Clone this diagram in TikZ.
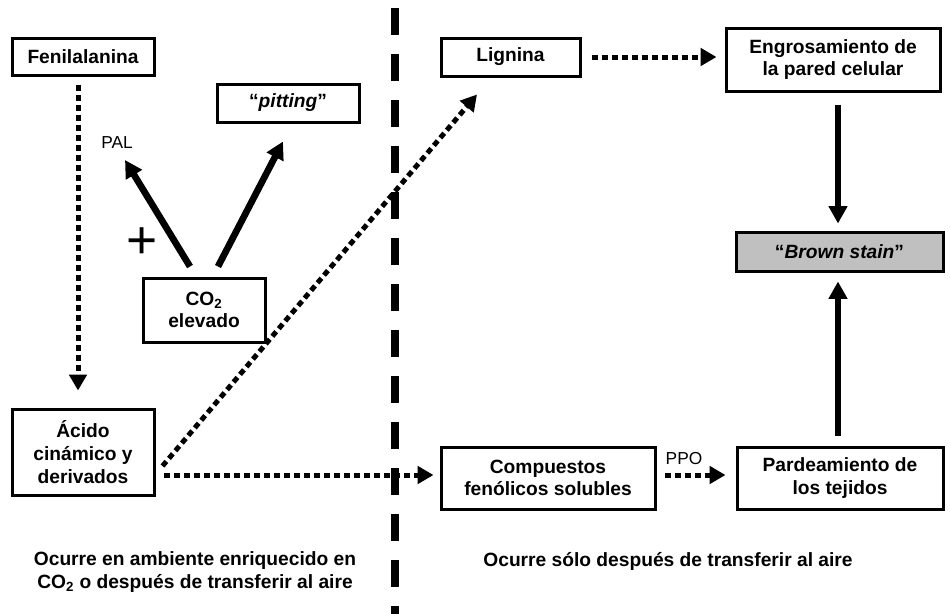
\documentclass[tikz,border=0pt]{standalone}
\usepackage{fontspec}
\setmainfont{Liberation Sans}
\usetikzlibrary{arrows.meta,calc}
\definecolor{staingray}{RGB}{192,192,192}
\tikzset{
  stepbox/.style={draw, line width=2.25pt, inner sep=0pt, align=center, font=\bfseries\fontsize{14.4}{17}\selectfont},
  notetext/.style={inner sep=0.75pt, align=center, font=\bfseries\fontsize{14.4}{17}\selectfont},
  enztext/.style={inner sep=0.75pt, font=\fontsize{13}{15}\selectfont},
  dotarrow/.style={line width=3.75pt, dash pattern=on 4.5pt off 3pt, -{Triangle[length=12pt,width=13pt]}},
  solidarrow/.style={line width=5pt, -{Triangle[length=13pt,width=13.5pt]}},
}
\begin{document}
\begin{tikzpicture}[x=0.75pt,y=0.75pt,yscale=-1,xscale=1]
	\useasboundingbox (0,0) rectangle (950,614);
	
	%Dashed divider
	\draw [line width=6pt, dash pattern=on 20.25pt off 14.25pt] (395,8) -- (395,614);
	
	%Shape: Rectangle
	\draw (83,56.5) node [stepbox, minimum width=106.5pt, minimum height=27.75pt] (fen) {Fenilalanina};
	%Shape: Rectangle
	\draw (288,103) node [stepbox, minimum width=106.5pt, minimum height=28.5pt] (pit) {“\textit{pitting}”};
	%Shape: Rectangle
	\draw (204,310) node [stepbox, minimum width=91.5pt, minimum height=48pt] (co2) {CO\textsubscript{2}\\elevado};
	%Shape: Rectangle
	\draw (83,452) node [stepbox, minimum width=106.5pt, minimum height=64.5pt] (aci) {Ácido\\cinámico y\\derivados};
	%Shape: Rectangle
	\draw (510.5,57) node [stepbox, minimum width=104.25pt, minimum height=28.5pt] (lig) {Lignina};
	%Shape: Rectangle
	\draw (833,59.5) node [stepbox, minimum width=160.5pt, minimum height=47.25pt] (eng) {Engrosamiento de\\la pared celular};
	%Shape: Rectangle
	\draw (839.5,251.5) node [stepbox, fill=staingray, minimum width=155.25pt, minimum height=29.25pt] (bro) {“\textit{Brown stain}”};
	%Shape: Rectangle
	\draw (548,478) node [stepbox, minimum width=160.5pt, minimum height=46.5pt] (com) {Compuestos\\fenólicos solubles};
	%Shape: Rectangle
	\draw (840,478) node [stepbox, minimum width=154.5pt, minimum height=46.5pt] (par) {Pardeamiento de\\los tejidos};
	
	% Text Node
	\draw (117,143) node [enztext] (pal) {PAL};
	% Text Node
	\draw (684,459) node [enztext] (ppo) {PPO};
	% Text Node
	\draw (142.5,243) node [inner sep=0pt, font=\fontsize{40}{40}\selectfont] (plus) {+};
	% Text Node
	\draw (195,572) node [notetext] (noteleft) {Ocurre en ambiente enriquecido en\\CO\textsubscript{2} o después de transferir al aire};
	% Text Node
	\draw (668,561) node [notetext] (noteright) {Ocurre sólo después de transferir al aire};
	
	\coordinate (paltip) at (125,160);
	
	%Dotted arrows
	\draw [dotarrow] ($(fen.south)+(-5,8)$) -- ($(aci.north)+(-5,-17)$);
	\draw [dotarrow] ($(aci.east)+(7,14)$) -- ($(lig.south)+(-33.5,17)$);
	\draw [dotarrow] ($(aci.east)+(8,23)$) -- ($(com.west)+(-6,-3)$);
	\draw [dotarrow] ($(com.east)+(8,-3)$) -- ($(par.west)+(-10,-3)$);
	\draw [dotarrow] ($(lig.east)+(10,0)$) -- ($(eng.west)+(-8,-2.5)$);
	
	%Solid arrows
	\draw [solidarrow] ($(co2.north)+(-14,-10)$) -- (paltip);
	\draw [solidarrow] ($(co2.north)+(14,-10)$) -- ($(pit.south)+(-5,18)$);
	\draw [solidarrow] ($(eng.south)+(5,12)$) -- ($(bro.north)+(-1.5,-7)$);
	\draw [solidarrow] ($(par.north)+(-2,-10)$) -- ($(bro.south)+(-1.5,9)$);
	
\end{tikzpicture}
\end{document}
